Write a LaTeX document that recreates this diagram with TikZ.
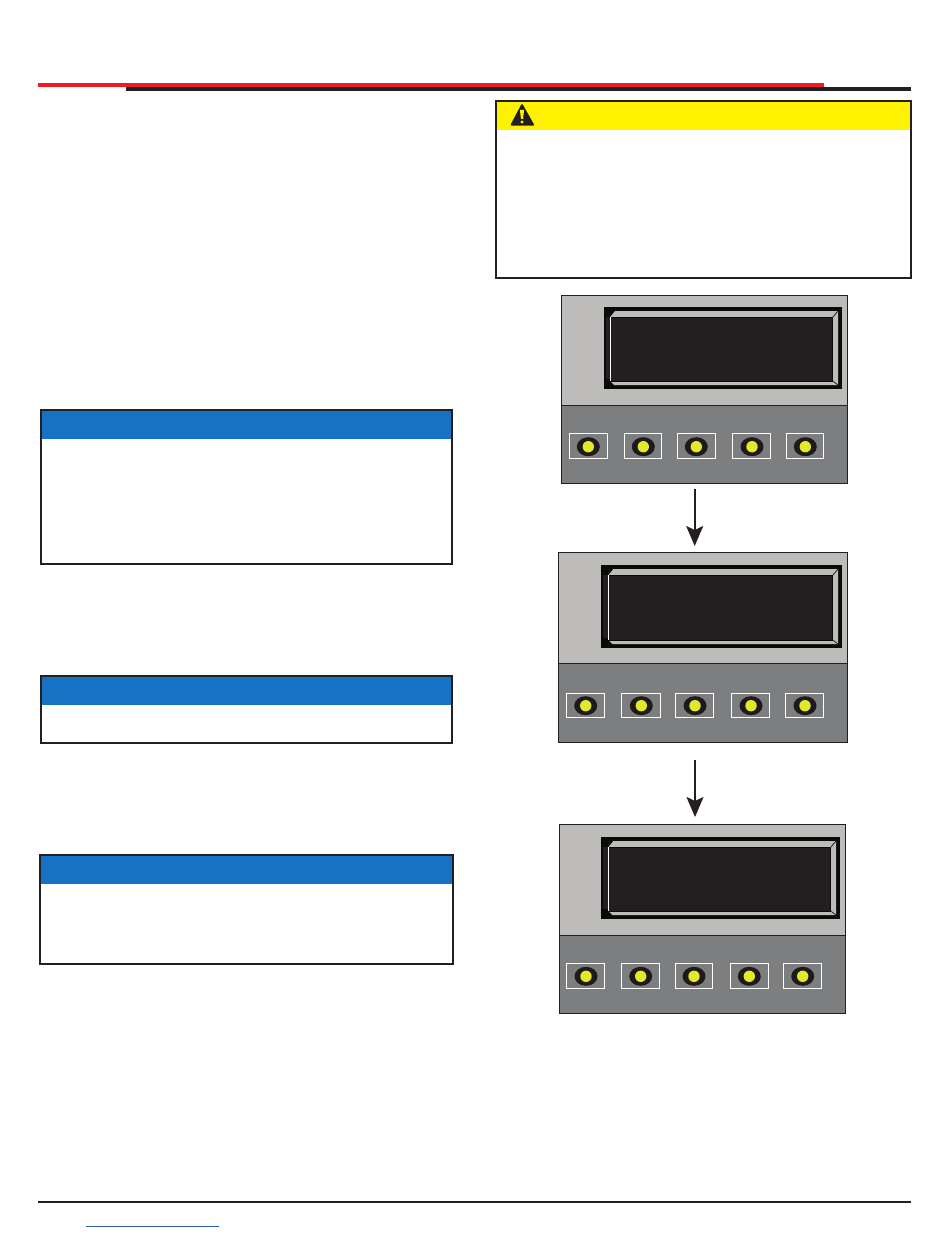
\documentclass[tikz,border=0pt]{standalone}
\usepackage{xcolor}
\usetikzlibrary{arrows.meta}
\definecolor{ink}{HTML}{231F20}
\definecolor{barred}{HTML}{ED1C24}
\definecolor{headblue}{HTML}{1673C4}
\definecolor{headyellow}{HTML}{FFF200}
\definecolor{linkblue}{HTML}{2A5CAA}
\definecolor{facelight}{HTML}{BEBCBA}
\definecolor{facedark}{HTML}{7D7E80}
\definecolor{dispblack}{HTML}{0A0A08}
\definecolor{ledyellow}{HTML}{E2E82A}
\definecolor{ringblack}{HTML}{1E1A1A}
\tikzset{
  framebox/.style={draw=ink, line width=2pt, inner sep=0pt},
  panel/.style={draw=ink, line width=1pt, fill=facelight, inner sep=0pt},
  lowerpart/.style={draw=ink, line width=1pt, fill=facedark},
  display/.style={fill=dispblack, inner sep=0pt},
  bevel/.style={fill=facelight},
  screen/.style={draw=dispblack, line width=0.8pt, fill=ink, inner sep=0pt},
  seam/.style={draw=ink, line width=0.8pt},
  keybox/.style={draw=white, line width=1pt, inner sep=0pt, minimum height=24.4pt},
  ledring/.style={ellipse, fill=ringblack, inner sep=0pt, minimum width=23pt, minimum height=19pt},
  ledcore/.style={circle, fill=ledyellow, inner sep=0pt, minimum size=11.4pt},
  flow/.style={draw=ink, line width=1.7pt, -{Stealth[length=20pt,width=17pt,inset=4pt]}}
}
\usetikzlibrary{shapes.geometric}
\begin{document}
\begin{tikzpicture}[x=1pt,y=-1pt]
  \useasboundingbox (0,0) rectangle (950,1241);
  \fill[white] (0,0) rectangle (950,1241);

  % rules at top and bottom
  \fill[ink] (126,87) rectangle (911,91);
  \fill[barred] (38,83) rectangle (824,87);
  \fill[ink] (38,1201) rectangle (911,1203);
  \fill[linkblue] (86,1225.5) rectangle (218.7,1226.7);

  % notice boxes
  \foreach \n/\xl/\xr/\yt/\yb/\hue in {
    warn/496/911/101/278/headyellow,
    noteA/41/452/410/564/headblue,
    noteB/41/452/676/743/headblue,
    noteC/40/453/855/964/headblue}{
    \fill[\hue] (\xl,\yt) rectangle (\xr,\yt+29);
    \node[framebox, minimum width={(\xr-\xl)*1pt}, minimum height={(\yb-\yt)*1pt}] (\n) at ({(\xl+\xr)/2},{(\yt+\yb)/2}) {};
  }
  \draw[ink, fill=ink, line width=2pt, line join=round] (522,105.2) -- (533,124.7) -- (511.7,124.7) -- cycle;
  \fill[headyellow] (519.9,110) -- (524.1,110) -- (523,119) -- (521,119) -- cycle;
  \fill[headyellow] (522,122) circle (1.7);

  % the three panels
  \foreach \p/\xl/\xr/\yt/\ym/\yb/\dl/\dr/\dt/\db/\bl in {
    A/561.5/847.5/295.5/405.3/483.5/604/842/307/389/610,
    B/558.5/847.5/552.5/663/742.5/601/842/565/648/608.3,
    C/559.5/845.5/824.5/935.3/1013.5/601/840/837/919/608.3}{
    \node[panel, minimum width={(\xr-\xl)*1pt}, minimum height={(\yb-\yt)*1pt}] (panel\p) at ({(\xl+\xr)/2},{(\yt+\yb)/2}) {};
    \draw[lowerpart] (\xl,\ym) rectangle (\xr,\yb);
    \node[display, minimum width={(\dr-\dl)*1pt}, minimum height={(\db-\dt)*1pt}] (disp\p) at ({(\dl+\dr)/2},{(\dt+\db)/2}) {};
    \fill[ink] (\dl+2,\dt+10) rectangle (\bl,\db-10);
    \fill[bevel] (\bl,\dt+10.3) -- (\bl+5,\dt+4) -- (\dr-4,\dt+4) -- (\dr-4,\db-4) -- (\bl+4,\db-4) -- (\bl,\db-8) -- cycle;
    \node[screen, minimum width={(\dr-9.3-\bl)*1pt}, minimum height={(\db-\dt-18.3)*1pt}] (screen\p) at ({(\bl+\dr-9.3)/2},{(\dt+\db+2.3)/2}) {};
    \draw[seam] (\dr-9.3,\dt+10.3) -- (\dr-4,\dt+4);
    \draw[seam] (\dr-9.3,\db-8) -- (\dr-4,\db-4);
    \draw[white, line width=1pt] (\bl,\dt+10.3) -- (\bl,\db-8);
  }

  % keys and lamps of each panel
  \foreach \i/\bx/\bw/\lx in {1/588.3/37.7/588.3,2/642.8/36.7/643.3,3/696.3/37.7/696.3,4/751.3/37.7/752,5/804.8/36.7/805.3}{
    \node[keybox, minimum width=\bw pt] (keyA\i) at (\bx,446) {};
    \node[ledring] (ringA\i) at (\lx,446.7) {};
    \node[ledcore] (lampA\i) at (\lx,446.7) {};
  }
  \foreach \i/\bx/\bw/\lx in {1/585.3/37.7/585.7,2/641/38.4/641.3,3/694.5/37.4/695,4/750.5/37.4/751,5/804.5/37.4/805}{
    \node[keybox, minimum width=\bw pt] (keyB\i) at (\bx,705.5) {};
    \node[ledring] (ringB\i) at (\lx,705.7) {};
    \node[ledcore] (lampB\i) at (\lx,705.7) {};
  }
  \foreach \i/\bx/\bw/\lx in {1/585.3/37.7/586,2/640.5/37.4/640.7,3/694/36.4/694,4/749.5/37.4/749.3,5/802.5/37.4/802.7}{
    \node[keybox, minimum width=\bw pt] (keyC\i) at (\bx,976) {};
    \node[ledring] (ringC\i) at (\lx,976.3) {};
    \node[ledcore] (lampC\i) at (\lx,976.3) {};
  }

  % arrows between the panels
  \draw[flow, shorten <=5pt, shorten >=6pt] (panelA.south -| 694.7,0) -- (panelB.north -| 694.7,0);
  \draw[flow, shorten <=17pt, shorten >=7pt] (panelB.south -| 695,0) -- (panelC.north -| 695,0);
\end{tikzpicture}
\end{document}
